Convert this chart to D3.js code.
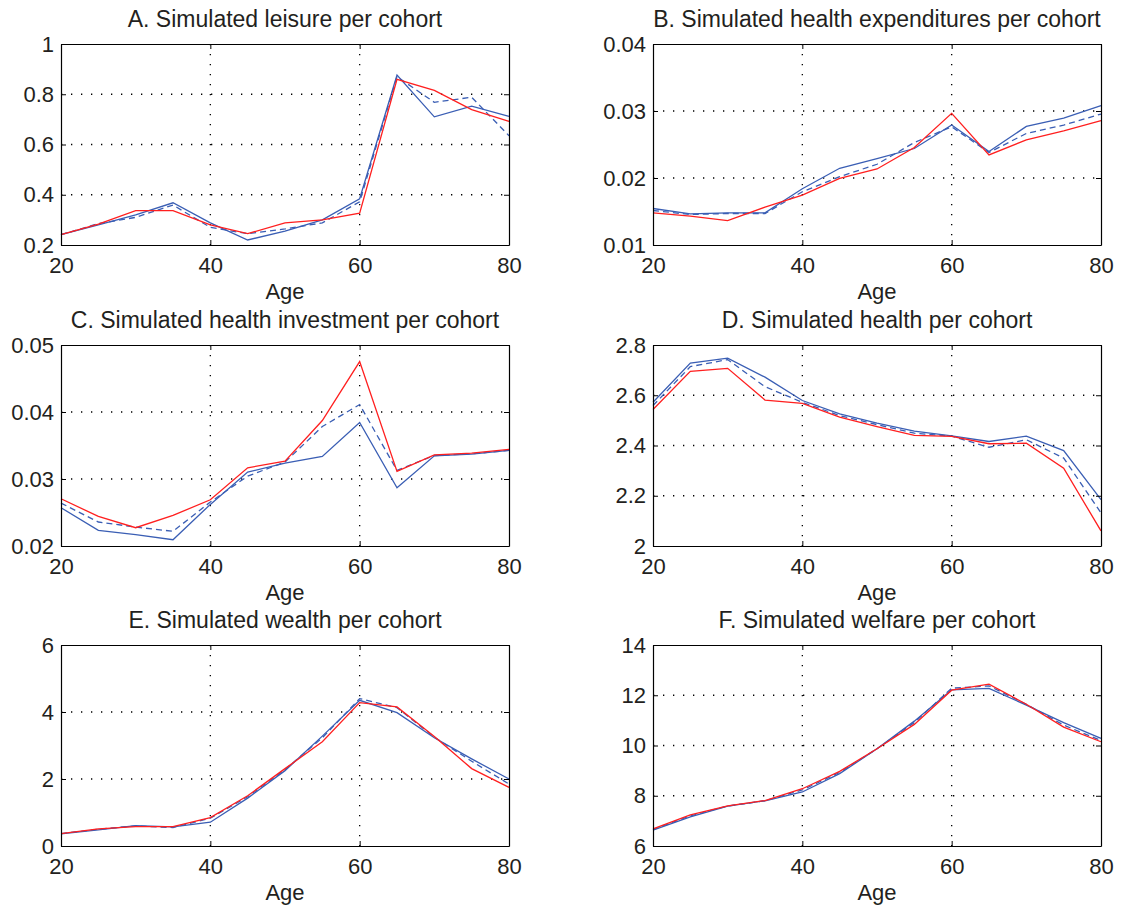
<!DOCTYPE html>
<html>
<head>
<meta charset="utf-8">
<script src="https://cdn.jsdelivr.net/npm/d3@7"></script>
<style>
  body { margin: 0; background: #fff; }
  text { font-family: "Liberation Sans", Arial, sans-serif; fill: #231f20; }
</style>
</head>
<body>
<svg id="canvas"></svg>
<script>
var width = 1125,
  height = 913;

var ages = [20, 25, 30, 35, 40, 45, 50, 55, 60, 65, 70, 75, 80];
var xTicks = [20, 40, 60, 80];

var titles = [
  'A. Simulated leisure per cohort',
  'B. Simulated health expenditures per cohort',
  'C. Simulated health investment per cohort',
  'D. Simulated health per cohort',
  'E. Simulated wealth per cohort',
  'F. Simulated welfare per cohort'
];

var yTicksA = [0.2, 0.4, 0.6, 0.8, 1];
var yTicksB = [0.01, 0.02, 0.03, 0.04];
var yTicksC = [0.02, 0.03, 0.04, 0.05];
var yTicksD = [2, 2.2, 2.4, 2.6, 2.8];
var yTicksE = [0, 2, 4, 6];
var yTicksF = [6, 8, 10, 12, 14];

// red solid, blue dashed, blue solid
var leisureRed    = [0.241, 0.283, 0.337, 0.337, 0.28, 0.245, 0.288, 0.30, 0.327, 0.859, 0.815, 0.739, 0.692];
var leisureDash   = [0.241, 0.285, 0.31, 0.359, 0.27, 0.245, 0.264, 0.288, 0.372, 0.87, 0.768, 0.788, 0.635];
var leisureBlue   = [0.241, 0.28, 0.32, 0.368, 0.288, 0.22, 0.255, 0.30, 0.384, 0.876, 0.71, 0.753, 0.712];

var expendRed     = [0.0148, 0.0143, 0.01365, 0.01565, 0.01745, 0.01995, 0.02135, 0.02455, 0.02965, 0.02345, 0.0257, 0.02705, 0.02855];
var expendDash    = [0.01515, 0.01455, 0.0147, 0.0147, 0.01795, 0.0202, 0.02205, 0.0253, 0.02765, 0.0238, 0.02665, 0.0279, 0.02955];
var expendBlue    = [0.01545, 0.01465, 0.0148, 0.0148, 0.0184, 0.02145, 0.0229, 0.0244, 0.0279, 0.02395, 0.0277, 0.02895, 0.0308];

var investRed     = [0.02705, 0.02442, 0.02273, 0.02457, 0.0269, 0.03167, 0.03267, 0.03873, 0.04752, 0.03113, 0.03361, 0.03386, 0.03441];
var investDash    = [0.02641, 0.02358, 0.02283, 0.02219, 0.02656, 0.03043, 0.03252, 0.03783, 0.04111, 0.03128, 0.03351, 0.03376, 0.03426];
var investBlue    = [0.02571, 0.02233, 0.02169, 0.02094, 0.02621, 0.03103, 0.03237, 0.03336, 0.03843, 0.02869, 0.03346, 0.03371, 0.03426];

var healthRed     = [2.543, 2.695, 2.707, 2.581, 2.568, 2.513, 2.475, 2.44, 2.436, 2.407, 2.409, 2.31, 2.06];
var healthDash    = [2.559, 2.714, 2.742, 2.634, 2.572, 2.519, 2.483, 2.449, 2.437, 2.393, 2.423, 2.35, 2.132];
var healthBlue    = [2.572, 2.728, 2.748, 2.672, 2.579, 2.526, 2.489, 2.457, 2.438, 2.416, 2.437, 2.38, 2.185];

var wealthRed     = [0.37, 0.51, 0.58, 0.58, 0.85, 1.5, 2.31, 3.11, 4.28, 4.15, 3.27, 2.31, 1.75];
var wealthDash    = [0.37, 0.5, 0.6, 0.55, 0.83, 1.47, 2.28, 3.23, 4.4, 4.13, 3.25, 2.53, 1.85];
var wealthBlue    = [0.36, 0.48, 0.61, 0.57, 0.71, 1.43, 2.25, 3.28, 4.35, 3.98, 3.23, 2.6, 2.0];

var welfareRed    = [6.68, 7.24, 7.6, 7.81, 8.28, 8.97, 9.87, 10.84, 12.2, 12.44, 11.64, 10.73, 10.15];
var welfareDash   = [6.65, 7.2, 7.59, 7.8, 8.23, 8.93, 9.87, 10.91, 12.28, 12.37, 11.64, 10.81, 10.2];
var welfareBlue   = [6.63, 7.16, 7.59, 7.8, 8.15, 8.88, 9.87, 10.97, 12.21, 12.27, 11.61, 10.91, 10.28];


function draw() {
  var canvas, panels, colLeft, rowTop, plotW, plotH;

  canvas = d3.select('#canvas')
    .attr('width', width)
    .attr('height', height);

  colLeft = [61, 653];
  rowTop = [44, 345, 645];
  plotW = [448, 448];
  plotH = 201;

  panels = [
    {ticks: yTicksA, series: [leisureRed, leisureDash, leisureBlue]},
    {ticks: yTicksB, series: [expendRed, expendDash, expendBlue]},
    {ticks: yTicksC, series: [investRed, investDash, investBlue]},
    {ticks: yTicksD, series: [healthRed, healthDash, healthBlue]},
    {ticks: yTicksE, series: [wealthRed, wealthDash, wealthBlue]},
    {ticks: yTicksF, series: [welfareRed, welfareDash, welfareBlue]}
  ];

  panels.forEach(function(p, i) {
    var col = i % 2,
        row = Math.floor(i / 2),
        w = plotW[col],
        h = plotH,
        g, x, y, line, innerX, innerY;

    g = canvas.append('g')
      .attr('transform', 'translate(' + colLeft[col] + ',' + rowTop[row] + ')');

    x = d3.scaleLinear().domain([20, 80]).range([0, w]);
    y = d3.scaleLinear().domain(d3.extent(p.ticks)).range([h, 0]);

    innerX = xTicks.slice(1, -1);
    innerY = p.ticks.slice(1, -1);

    // GRID
    g.append('g')
      .attr('class', 'grid')
      .selectAll('line.gx')
      .data(innerX)
      .enter()
      .append('line')
      .attr('x1', x).attr('x2', x)
      .attr('y1', 0).attr('y2', h);

    g.select('g.grid')
      .selectAll('line.gy')
      .data(innerY)
      .enter()
      .append('line')
      .attr('x1', 0).attr('x2', w)
      .attr('y1', y).attr('y2', y);

    g.selectAll('g.grid line')
      .style('stroke', '#000')
      .style('stroke-width', 1.3)
      .style('stroke-dasharray', '1.3,8.7');

    // LINES
    line = d3.line()
      .x(function(d, k) { return x(ages[k]); })
      .y(function(d) { return y(d); });

    var styles = [
      {color: '#ff1f1f', dash: null},
      {color: '#3a5eb4', dash: '6,4'},
      {color: '#3a5eb4', dash: null}
    ];

    [2, 1, 0].forEach(function(k) {
      g.append('path')
        .datum(p.series[k])
        .attr('d', line)
        .style('fill', 'none')
        .style('stroke', styles[k].color)
        .style('stroke-width', 1.3)
        .style('stroke-dasharray', styles[k].dash);
    });

    // AXES
    var fmt = function(d) { return String(d); };

    g.append('g')
      .attr('transform', 'translate(0,' + h + ')')
      .call(d3.axisBottom(x).tickValues(xTicks).tickSizeInner(-5).tickSizeOuter(0).tickPadding(12).tickFormat(fmt));

    g.append('g')
      .call(d3.axisTop(x).tickValues(xTicks).tickSizeInner(-5).tickSizeOuter(0).tickFormat(''));

    g.append('g')
      .call(d3.axisLeft(y).tickValues(p.ticks).tickSizeInner(-5).tickSizeOuter(0).tickPadding(7).tickFormat(fmt));

    g.append('g')
      .attr('transform', 'translate(' + w + ',0)')
      .call(d3.axisRight(y).tickValues(p.ticks).tickSizeInner(-5).tickSizeOuter(0).tickFormat(''));

    g.selectAll('.domain')
      .style('stroke', '#000')
      .style('stroke-width', 1.2);

    g.selectAll('.tick line')
      .style('stroke', '#000');

    g.selectAll('.tick text')
      .style('font-size', '22px')
      .style('font-family', '"Liberation Sans", Arial, sans-serif')
      .attr('fill', '#231f20');

    // TITLE
    g.append('text')
      .attr('x', w / 2)
      .attr('y', -17)
      .attr('text-anchor', 'middle')
      .style('font-size', '23px')
      .text(titles[i]);

    // X LABEL
    g.append('text')
      .attr('x', w / 2)
      .attr('y', h + 54)
      .attr('text-anchor', 'middle')
      .style('font-size', '22px')
      .text('Age');
  });
}

window.onload = draw;
</script>
</body>
</html>
